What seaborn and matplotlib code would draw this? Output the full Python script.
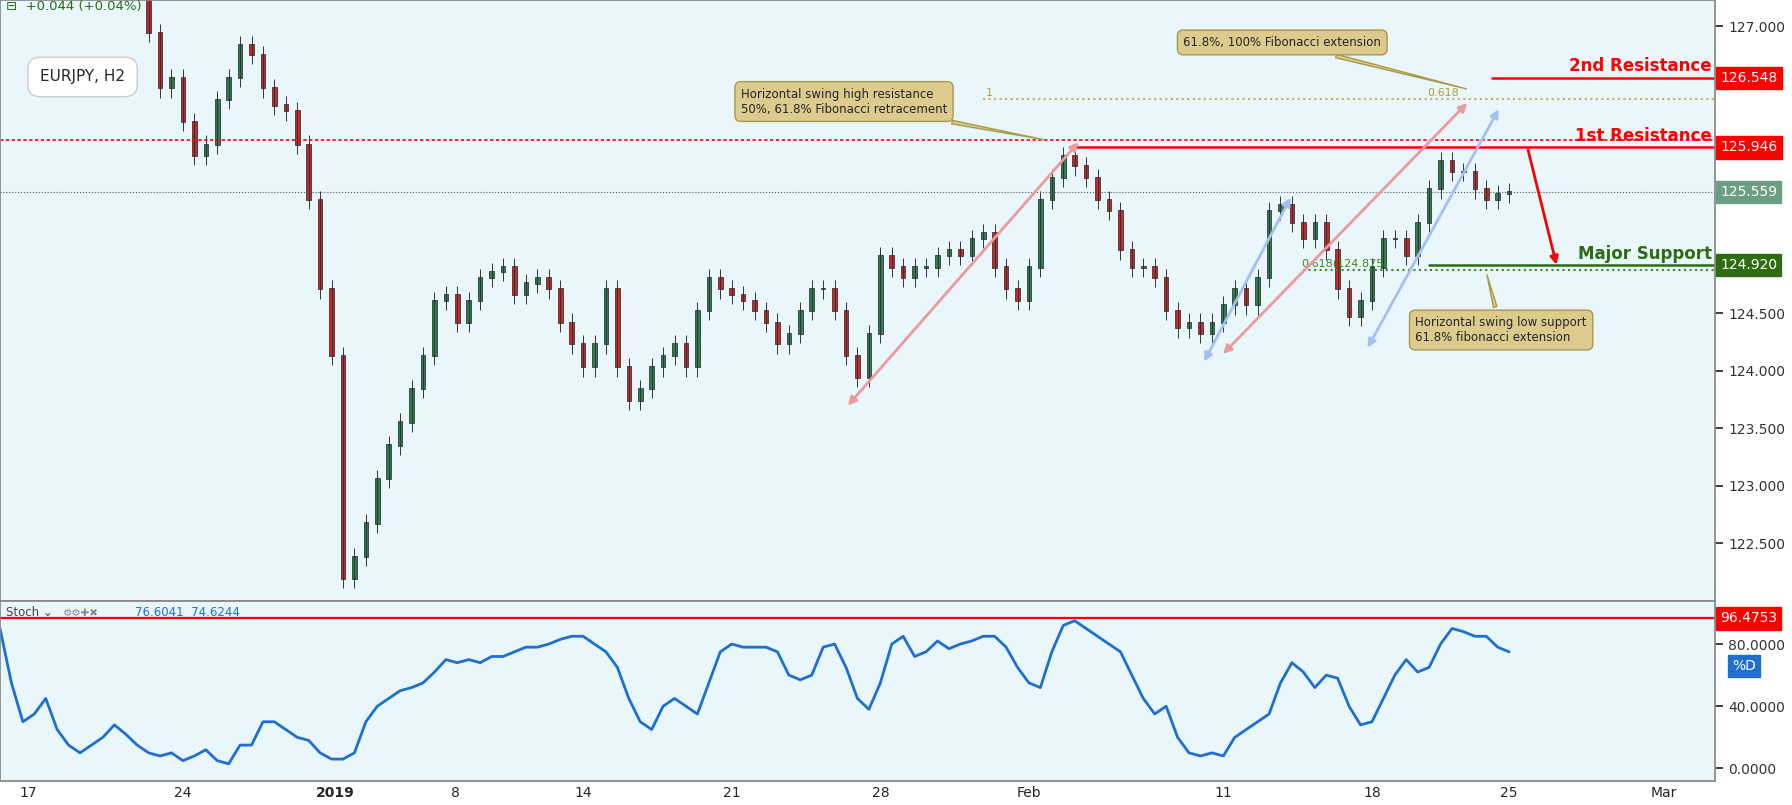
import numpy as np, matplotlib
matplotlib.use('Agg')
import matplotlib.pyplot as plt
import seaborn as sns

BG = "#e9f6fc"
UP, DOWN = "#2e7d4f", "#c62828"
TAN, TANE = "#dccb8c", "#a89a4c"

# closes (EURJPY, sampled along the chart)
closes = [127.95, 127.4, 126.94, 126.46, 126.55, 126.17, 125.87, 125.97, 126.36, 126.55,
          126.84, 126.75, 126.46, 126.31, 126.26, 125.97, 125.49, 124.71, 124.13, 122.19,
          122.38, 122.67, 123.06, 123.35, 123.55, 123.84, 124.13, 124.61, 124.66, 124.42,
          124.61, 124.81, 124.86, 124.90, 124.66, 124.76, 124.81, 124.71, 124.42, 124.23,
          124.03, 124.23, 124.71, 124.03, 123.74, 123.84, 124.03, 124.13, 124.23, 124.03,
          124.52, 124.81, 124.71, 124.66, 124.61, 124.52, 124.42, 124.23, 124.32, 124.52,
          124.71, 124.71, 124.52, 124.13, 123.94, 124.32, 125.00, 124.90, 124.81, 124.90,
          124.90, 125.00, 125.05, 125.00, 125.15, 125.20, 124.90, 124.71, 124.61, 124.90,
          125.49, 125.68, 125.87, 125.78, 125.68, 125.49, 125.39, 125.05, 124.90, 124.90,
          124.81, 124.52, 124.37, 124.42, 124.32, 124.42, 124.57, 124.71, 124.57, 124.81,
          125.39, 125.44, 125.29, 125.15, 125.29, 125.05, 124.71, 124.47, 124.61, 124.90,
          125.15, 125.15, 125.00, 125.29, 125.58, 125.83, 125.73, 125.73, 125.58, 125.49,
          125.54, 125.56]
closes_x0, closes_dx = 110, 10

# stochastic %D
stoch = [90, 55, 30, 35, 45, 25, 15, 10, 15, 20, 28, 22, 15, 10, 8, 10, 5, 8, 12, 5,
         3, 15, 15, 30, 30, 25, 20, 18, 10, 6, 6, 10, 30, 40, 45, 50, 52, 55, 62, 70,
         68, 70, 68, 72, 72, 75, 78, 78, 80, 83, 85, 85, 80, 75, 65, 45, 30, 25, 40, 45,
         40, 35, 55, 75, 80, 78, 78, 78, 75, 60, 57, 60, 78, 80, 65, 45, 38, 55, 80, 85,
         72, 75, 82, 77, 80, 82, 85, 85, 78, 65, 55, 52, 75, 92, 95, 90, 85, 80, 75, 60,
         45, 35, 40, 20, 10, 8, 10, 8, 20, 25, 30, 35, 55, 68, 62, 52, 60, 58, 40, 28,
         30, 45, 60, 70, 62, 65, 80, 90, 88, 85, 85, 78, 75]

tick_pos = [25, 160, 293, 398, 510, 640, 770, 900, 1070, 1200, 1320, 1455]
tick_lab = ["17", "24", "2019", "8", "14", "21", "28", "Feb", "11", "18", "25", "Mar"]
price_ticks = [122.5, 123.0, 123.5, 124.0, 124.5, 127.0]
stoch_ticks = [0, 40, 80]

sns.set_theme(style="white", font="DejaVu Sans")
fig = plt.figure(figsize=(17.92, 8.05), dpi=100, facecolor="white")
ax = fig.add_axes([0.0, 0.254, 0.957, 0.746], facecolor=BG)
ax2 = fig.add_axes([0.0, 0.03, 0.957, 0.224], facecolor=BG, sharex=ax)

# candles
xs = closes_x0 + closes_dx * np.arange(len(closes))
for i in range(1, len(closes)):
    o, c = closes[i - 1], closes[i]
    col = UP if c >= o else DOWN
    ax.vlines(xs[i], min(o, c) - 0.08, max(o, c) + 0.08, color="#333333", lw=0.7)
    ax.bar(xs[i], abs(c - o) + 0.01, bottom=min(o, c), width=4, color=col,
           edgecolor="#222222", lw=0.5)

ax.set_xlim(0, 1500)
ax.set_ylim(122.0, 127.23)
ax.yaxis.tick_right()
ax.set_yticks(price_ticks)
ax.set_yticklabels([f"{v:.3f}" for v in price_ticks], fontsize=10, color="#333")
ax.tick_params(axis="x", labelbottom=False, length=0)
for s in ax.spines.values():
    s.set_color("#888")

# levels
ax.axhline(126.01, color="red", ls=(0, (2, 1.5)), lw=1.2)
ax.plot([940, 1500], [125.946, 125.946], color="red", lw=1.8)
ax.plot([1305, 1500], [126.548, 126.548], color="red", lw=1.8)
ax.plot([860, 1500], [126.37, 126.37], color="#c8b440", ls=":", lw=1.5)
ax.plot([1250, 1500], [124.920, 124.920], color="#2e6b12", lw=1.8)
ax.plot([1140, 1500], [124.875, 124.875], color="#3b8a1e", ls=":", lw=1.5)
ax.axhline(125.559, color="#555", ls=":", lw=0.8)
ax.text(862, 126.38, "1", color="#b0a030", fontsize=8, va="bottom")
ax.text(1248, 126.38, "0.618", color="#b0a030", fontsize=8, va="bottom")
ax.text(1138, 124.89, "0.618(124.875)", color="#3b8a1e", fontsize=8, va="bottom")

ax.text(1497, 126.58, "2nd Resistance", color="red", fontsize=12, fontweight="bold",
        ha="right", va="bottom")
ax.text(1497, 125.97, "1st Resistance", color="red", fontsize=12, fontweight="bold",
        ha="right", va="bottom")
ax.text(1497, 124.94, "Major Support", color="#2e6b12", fontsize=12, fontweight="bold",
        ha="right", va="bottom")

# arrows
def arr(p, q, c, both=True):
    ax.annotate("", xy=q, xytext=p,
                arrowprops=dict(arrowstyle="<|-|>" if both else "-|>", color=c, lw=2,
                                mutation_scale=12))
arr((740, 123.68), (945, 126.01), "#ec9a9c")
arr((1068, 124.13), (1285, 126.35), "#ec9a9c")
arr((1052, 124.06), (1130, 125.53), "#a4c0f0")
arr((1195, 124.18), (1312, 126.30), "#a4c0f0")
arr((1336, 125.946), (1362, 124.90), "red", both=False)

# callouts
box = dict(boxstyle="round,pad=0.5", fc=TAN, ec=TANE, lw=1)
ax.annotate("Horizontal swing high resistance\n50%, 61.8% Fibonacci retracement",
            xy=(915, 126.01), xytext=(648, 126.25), fontsize=8.5, bbox=box,
            arrowprops=dict(arrowstyle="wedge", fc=TAN, ec=TANE))
ax.annotate("61.8%, 100% Fibonacci extension", xy=(1285, 126.45), xytext=(1035, 126.83),
            fontsize=8.5, bbox=box, arrowprops=dict(arrowstyle="wedge", fc=TAN, ec=TANE))
ax.annotate("Horizontal swing low support\n61.8% fibonacci extension", xy=(1300, 124.86),
            xytext=(1238, 124.26), fontsize=8.5, bbox=box,
            arrowprops=dict(arrowstyle="wedge", fc=TAN, ec=TANE))
ax.text(35, 126.56, "EURJPY, H2", fontsize=11, va="center",
        bbox=dict(boxstyle="round,pad=0.8", fc="white", ec="#ccc"))
ax.text(5, 127.17, "⊟  +0.044 (+0.04%)", color="#2e6b12", fontsize=9.5, va="center")

# right-axis tags
def tag(a, y, txt, c, tc="white", x=1.003):
    a.text(x, y, txt, transform=a.get_yaxis_transform(), color=tc, fontsize=10,
           va="center", ha="left", bbox=dict(boxstyle="square,pad=0.3", fc=c, ec=c),
           clip_on=False)
tag(ax, 126.548, "126.548", "red")
tag(ax, 125.946, "125.946", "red")
tag(ax, 125.559, "125.559", "#6b9e82")
tag(ax, 124.920, "124.920", "#2e6b12")

# stochastic
sx = 10 * np.arange(len(stoch))
sns.lineplot(x=sx, y=stoch, ax=ax2, color="#1f6fd1", lw=2)
ax2.axhline(96.4753, color="red", lw=1.6)
ax2.set_ylim(-8, 108)
ax2.yaxis.tick_right()
ax2.set_yticks(stoch_ticks)
ax2.set_yticklabels([f"{v:.4f}" for v in stoch_ticks], fontsize=10, color="#333")
ax2.set_xticks(tick_pos)
ax2.set_xticklabels(tick_lab, fontsize=10)
for lbl in ax2.get_xticklabels():
    if lbl.get_text() == "2019":
        lbl.set_fontweight("bold")
ax2.tick_params(axis="x", length=0, pad=4)
for s in ax2.spines.values():
    s.set_color("#888")
tag(ax2, 96.4753, "96.4753", "red")
tag(ax2, 66, "%D", "#1f6fd1", x=1.01)
ax2.text(5, 100, "Stoch ⌄", fontsize=8.5, color="#444", va="center")
ax2.text(55, 100, "⚙⚙✚✖", fontsize=7.5, color="#888", va="center")
ax2.text(118, 100, "76.6041  74.6244", fontsize=8.5, color="#1f6fd1", va="center")

fig.savefig("out.png", dpi=100, facecolor="white")
